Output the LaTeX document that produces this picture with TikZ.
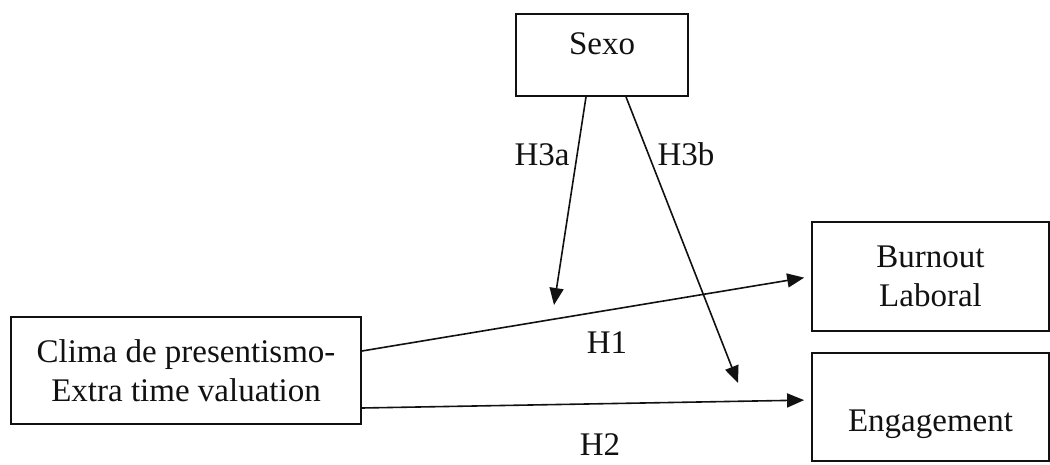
\documentclass[tikz,border=0pt]{standalone}
\usepackage{fontspec}
\setmainfont{Liberation Serif}
\definecolor{mdink}{HTML}{111111}
\usepackage{tikz}
\usetikzlibrary{positioning, arrows.meta, calc}

\begin{document}
\begin{tikzpicture}[x=0.5pt, y=-0.5pt,
    varbox/.style={draw=mdink, line width=0.9pt, inner sep=0pt, align=center, text=mdink},
    path/.style={-{Triangle[length=8.5pt, width=7pt]}, mdink, line width=0.8pt},
    hyp/.style={anchor=base, inner sep=0.5pt, text=mdink}]
    \useasboundingbox (0,0) rectangle (1050,465);
    \fontsize{16.5}{19.5}\selectfont
    % variables
    \node[varbox, minimum width=86pt, text height=20.5pt, text depth=20.5pt] (sexo) at (602,55) {Sexo};
    \node[varbox, minimum width=175pt, minimum height=53.5pt] (clima) at (186,370.5) {Clima de presentismo-\\Extra time valuation};
    \node[varbox, minimum width=118.5pt, minimum height=54.5pt] (burnout) at (930.5,276.5) {Burnout\\Laboral};
    \node[varbox, minimum width=118.5pt, text height=39pt, text depth=15pt] (engage) at (930.5,407) {Engagement};
    % moderator ends
    \coordinate (h3aend) at (554,305);
    \coordinate (h3bend) at (738,383);
    % paths
    \draw[path, shorten >=3.5pt] ([yshift=9.75pt]clima.east) -- (burnout.west);
    \draw[path, shorten >=3.5pt] ([yshift=-18.75pt]clima.east) -- ([yshift=3.5pt]engage.west);
    \draw[path] ([xshift=-8pt]sexo.south) -- (h3aend);
    \draw[path] ([xshift=12pt]sexo.south) -- (h3bend);
    % labels
    \node[hyp] (lh3a) at (542,165) {H3a};
    \node[hyp] (lh3b) at (686,165) {H3b};
    \node[hyp] (lh1) at (607,353) {H1};
    \node[hyp] (lh2) at (600,455) {H2};
\end{tikzpicture}
\end{document}
